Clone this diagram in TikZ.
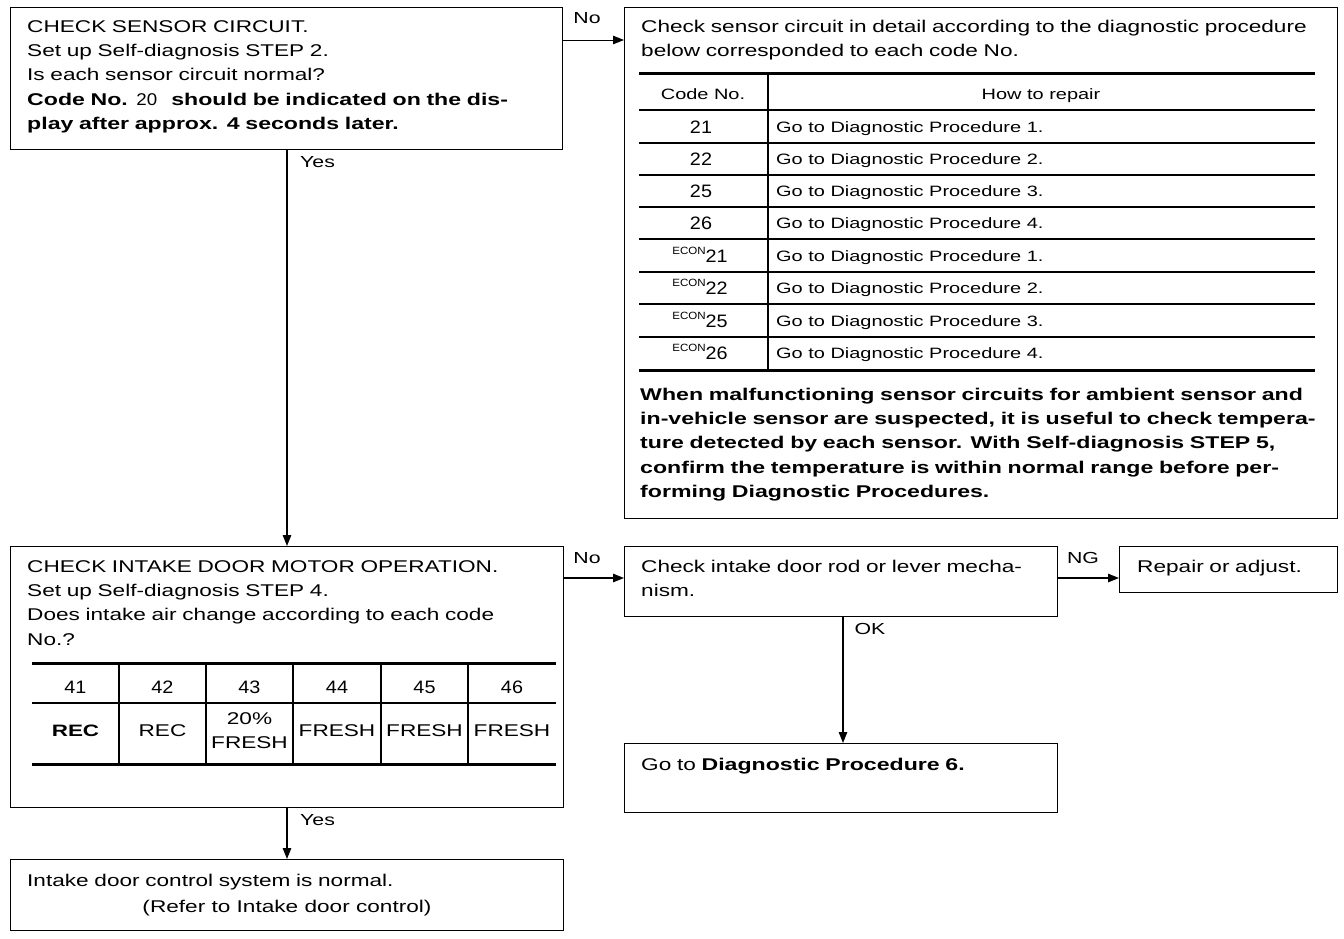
\documentclass[tikz,border=0pt]{standalone}
\usepackage{fontspec}
\setmainfont{Liberation Sans}[FakeStretch=1.33,BoldFeatures={FakeStretch=1.36}]
\newfontfamily\segfont{Liberation Sans}[FakeStretch=1.1]
\newcommand{\econmark}{\raisebox{8pt}{\fontsize{10.5}{11}\selectfont ECON}}
\usetikzlibrary{arrows.meta}
\begin{document}
\begin{tikzpicture}[x=1pt,y=-1pt,
  box/.style={draw,line width=1.3pt,inner sep=0pt,anchor=north west},
  txt/.style={anchor=base west,inner sep=0pt,text width=#1,align=left,font=\fontsize{17}{24.4}\selectfont},
  txt/.default=900pt,
  rowtxt/.style={anchor=base west,inner sep=0pt,font=\fontsize{15}{20}\selectfont},
  lbl/.style={inner sep=0pt,font=\fontsize{16}{20}\selectfont},
  arr/.style={line width=1.2pt,-{Triangle[length=11pt,width=8.5pt]}},
  rulethick/.style={line width=3pt},
  rulethin/.style={line width=1.2pt},
  code/.style={inner sep=0pt,anchor=base,font=\segfont\fontsize{18}{20}\selectfont},
  cell/.style={inner sep=0pt,anchor=base,font=\fontsize{15}{20}\selectfont},
  bigcell/.style={inner sep=0pt,anchor=base,font=\fontsize{17}{24}\selectfont},
]
\fill[white] (0,0) rectangle (1344,938);
\useasboundingbox (0,0) rectangle (1344,938);

% boxes
\node[box,minimum width=552pt,minimum height=142pt] (b1) at (10,7) {};
\node[box,minimum width=713pt,minimum height=511pt] (b2) at (624,7) {};
\node[box,minimum width=553pt,minimum height=261pt] (b3) at (10,546) {};
\node[box,minimum width=433pt,minimum height=70pt] (b4) at (624,546) {};
\node[box,minimum width=218pt,minimum height=46pt] (b5) at (1119,546) {};
\node[box,minimum width=433pt,minimum height=69pt] (b6) at (624,743) {};
\node[box,minimum width=553pt,minimum height=71pt] (b7) at (10,859) {};

% box 1 text
\node[txt] (t1) at (27,32) {CHECK SENSOR CIRCUIT.\\Set up Self-diagnosis STEP 2.\\Is each sensor circuit normal?\\\textbf{Code No. {\mdseries\segfont 20}\enspace\ should be indicated on the dis-}\\\textbf{play after approx. 4 seconds later.}};

% box 2 text
\node[txt] (t2) at (641,32) {Check sensor circuit in detail according to the diagnostic procedure\\below corresponded to each code No.};

% table 1
\draw[rulethick] (639,73) -- (1315,73);
\draw[line width=2.5pt] (639,110) -- (1315,110);
\foreach \yy in {143,175,207,239,272,304,337} {\draw[rulethin] (639,\yy) -- (1315,\yy);}
\draw[rulethick] (639,370) -- (1315,370);
\draw[line width=1.6pt] (768,73) -- (768,370);
\node[cell] (h1) at (703,99) {Code No.};
\node[cell] (h2) at (1041,99) {How to repair};
\node[code] (c1) at (701,133) {21};
\node[code] (c2) at (701,165) {22};
\node[code] (c3) at (701,197) {25};
\node[code] (c4) at (701,229) {26};
\node[code] (c5) at (700,262) {\econmark21};
\node[code] (c6) at (700,294) {\econmark22};
\node[code] (c7) at (700,327) {\econmark25};
\node[code] (c8) at (700,359) {\econmark26};
\node[rowtxt] (r1) at (776,132) {Go to Diagnostic Procedure 1.};
\node[rowtxt] (r2) at (776,164) {Go to Diagnostic Procedure 2.};
\node[rowtxt] (r3) at (776,196) {Go to Diagnostic Procedure 3.};
\node[rowtxt] (r4) at (776,228) {Go to Diagnostic Procedure 4.};
\node[rowtxt] (r5) at (776,261) {Go to Diagnostic Procedure 1.};
\node[rowtxt] (r6) at (776,293) {Go to Diagnostic Procedure 2.};
\node[rowtxt] (r7) at (776,326) {Go to Diagnostic Procedure 3.};
\node[rowtxt] (r8) at (776,358) {Go to Diagnostic Procedure 4.};

% bold paragraph
\node[txt] (t3) at (640,400) {\bfseries When malfunctioning sensor circuits for ambient sensor and\\in-vehicle sensor are suspected, it is useful to check tempera-\\ture detected by each sensor. With Self-diagnosis STEP 5,\\confirm the temperature is within normal range before per-\\forming Diagnostic Procedures.};

% box 3 text
\node[txt] (t4) at (27,572) {CHECK INTAKE DOOR MOTOR OPERATION.\\Set up Self-diagnosis STEP 4.\\Does intake air change according to each code\\No.?};

% table 2
\draw[rulethick] (32,663) -- (556,663);
\draw[rulethin] (32,703) -- (556,703);
\draw[rulethick] (32,764) -- (556,764);
\foreach \xx in {119,206,293,381,468} {\draw[line width=1.5pt] (\xx,663) -- (\xx,764);}
\node[code] (d1) at (75.5,693) {41};
\node[code] (d2) at (162.5,693) {42};
\node[code] (d3) at (249.5,693) {43};
\node[code] (d4) at (337,693) {44};
\node[code] (d5) at (424.5,693) {45};
\node[code] (d6) at (512,693) {46};
\node[bigcell,font=\bfseries\fontsize{16.5}{24}\selectfont] (e1) at (75.5,736) {REC};
\node[bigcell] (e2) at (162.5,736) {REC};
\node[bigcell] (e3) at (249.5,724) {20\%};
\node[bigcell] (e3b) at (249.5,748) {FRESH};
\node[bigcell] (e4) at (337,736) {FRESH};
\node[bigcell] (e5) at (424.5,736) {FRESH};
\node[bigcell] (e6) at (512,736) {FRESH};

% other boxes text
\node[txt] (t5) at (641,572) {Check intake door rod or lever mecha-\\nism.};
\node[txt] (t6) at (1137,572) {Repair or adjust.};
\node[txt] (t7) at (641,770) {Go to \textbf{Diagnostic Procedure 6.}};
\node[txt] (t8) at (27,886) {Intake door control system is normal.};
\node[inner sep=0pt,anchor=base,font=\fontsize{17}{20}\selectfont] (t9) at (287,912) {(Refer to Intake door control)};

% connectors
\draw[line width=1pt,-{Triangle[length=11pt,width=8.5pt]}] ([yshift=-33pt]b1.north east) -- ([yshift=-33pt]b2.north west);
\draw[arr] ([xshift=277pt]b1.south west) -- ([xshift=277pt]b3.north west);
\draw[arr] ([yshift=-32pt]b3.north east) -- ([yshift=-32pt]b4.north west);
\draw[arr] ([yshift=-32pt]b4.north east) -- ([yshift=-32pt]b5.north west);
\draw[arr] ([xshift=219pt]b4.south west) -- ([xshift=219pt]b6.north west);
\draw[arr] ([xshift=277pt]b3.south west) -- ([xshift=277pt]b7.north west);

% connector labels
\node[lbl] (l1) at (587,18) {No};
\node[lbl,anchor=west] (l2) at (300,162) {Yes};
\node[lbl] (l3) at (587,558) {No};
\node[lbl] (l4) at (1083,558) {NG};
\node[lbl] (l5) at (870,629) {OK};
\node[lbl,anchor=west] (l6) at (300,820) {Yes};
\end{tikzpicture}
\end{document}
